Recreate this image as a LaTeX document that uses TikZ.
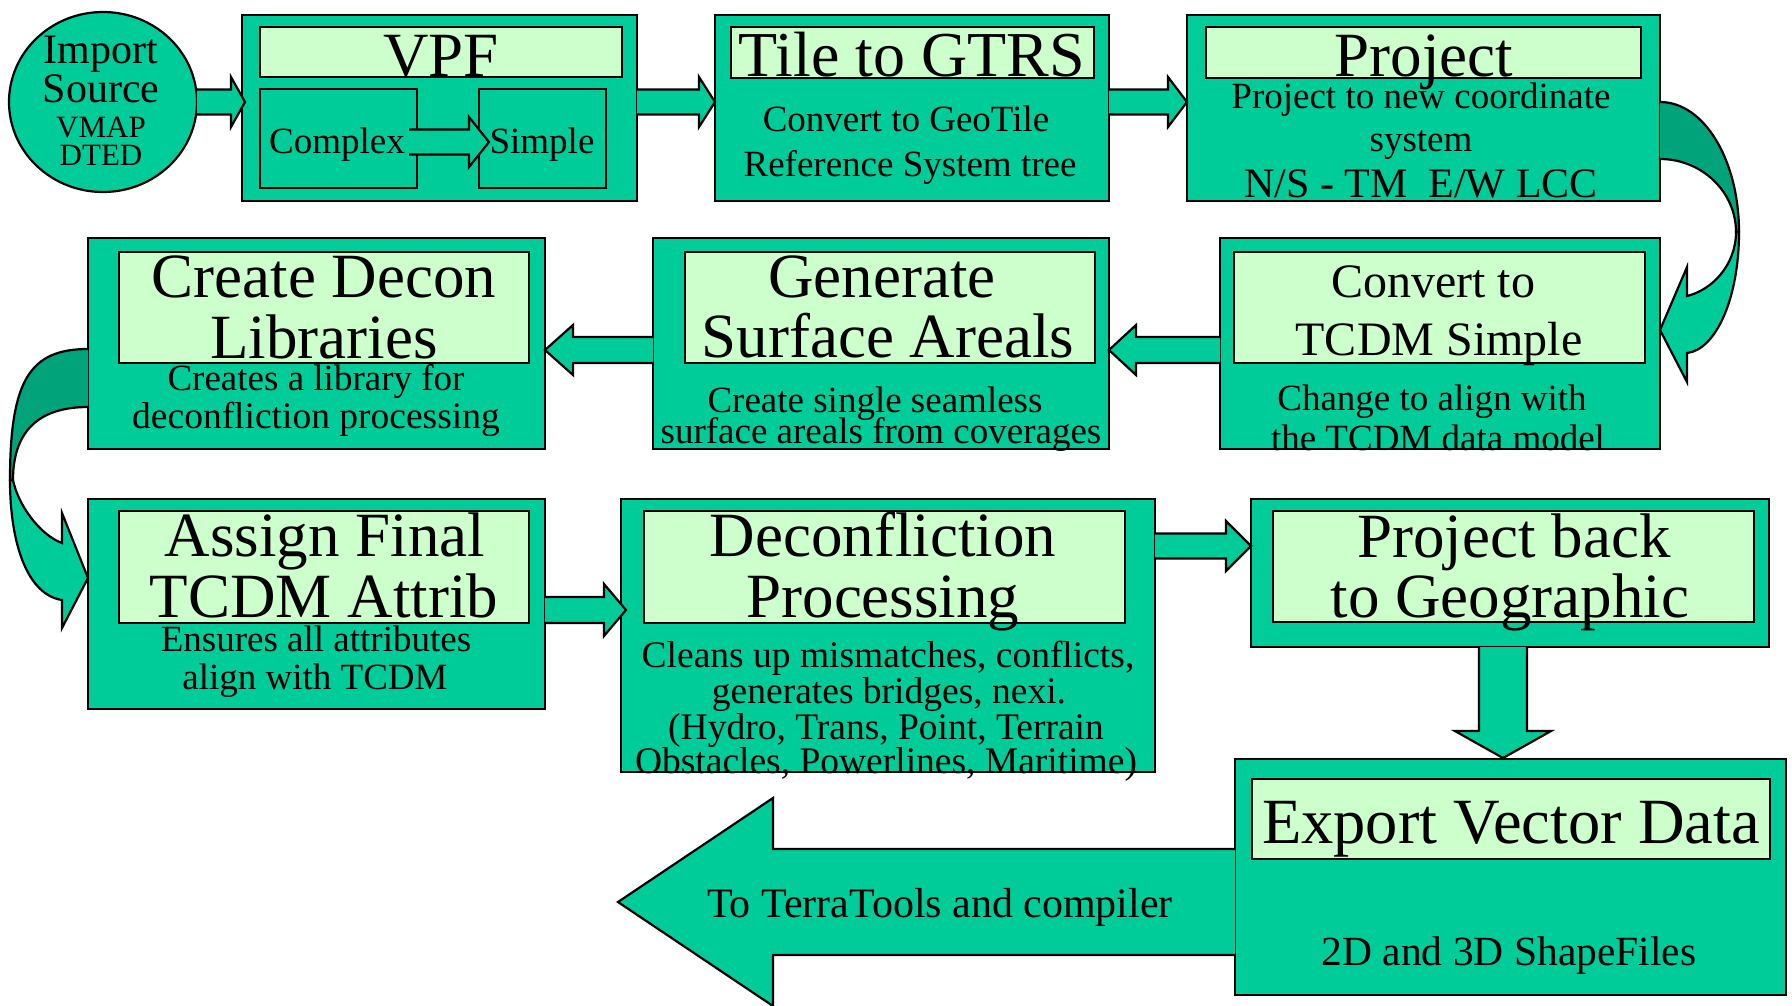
\documentclass[tikz,border=0pt]{standalone}
\usepackage{fontspec}
\setmainfont{Liberation Serif}
\usetikzlibrary{calc,shapes.geometric}

\definecolor{boxgreen}{HTML}{00CC99}
\definecolor{headgreen}{HTML}{CCFFCC}
\definecolor{foldgreen}{HTML}{00A37A}

\newcommand\fsz[1]{\fontsize{#1}{#1}\selectfont}

% rectangle node from its top-left to its bottom-right corner
\newcommand\rect[6]{\node[#1, minimum width={(#5-#3)*1pt}, minimum height={(#6-#4)*1pt}] (#2) at (#3,#4) {};}

% block arrows: tail, tip, shaft half width, head half width, head length
\newcommand\arrowR[5]{\filldraw[blk] ($#1+(0,-#3)$) -- ($#2+(-#5,-#3)$) -- ($#2+(-#5,-#4)$) -- #2 -- ($#2+(-#5,#4)$) -- ($#2+(-#5,#3)$) -- ($#1+(0,#3)$);}
\newcommand\arrowL[5]{\filldraw[blk] ($#1+(0,-#3)$) -- ($#2+(#5,-#3)$) -- ($#2+(#5,-#4)$) -- #2 -- ($#2+(#5,#4)$) -- ($#2+(#5,#3)$) -- ($#1+(0,#3)$);}
\newcommand\arrowD[5]{\filldraw[blk] ($#1+(-#3,0)$) -- ($#2+(-#3,-#5)$) -- ($#2+(-#4,-#5)$) -- #2 -- ($#2+(#4,-#5)$) -- ($#2+(#3,-#5)$) -- ($#1+(#3,0)$);}

\begin{document}
\begin{tikzpicture}[x=1pt,y=-1pt,
  panel/.style={draw=black, line width=2.2pt, fill=boxgreen, inner sep=0pt, outer sep=0pt, anchor=north west},
  title/.style={draw=black, line width=2.2pt, fill=headgreen, inner sep=0pt, outer sep=0pt, anchor=north west},
  blk/.style={draw=black, line width=2.2pt, fill=boxgreen, line join=miter},
  fold/.style={draw=black, line width=2.2pt, fill=foldgreen},
  lbl/.style={anchor=base, inner sep=0pt, outer sep=0pt, text=black},
  big/.style={lbl, font=\fsz{63}},
  small/.style={lbl, font=\fsz{37}},
]
\useasboundingbox (0,0) rectangle (1792,1005);

% ---------- panels ----------
\node[draw=black, line width=2.2pt, fill=boxgreen, ellipse, minimum width=188pt,
      minimum height=180pt, inner sep=0pt, outer sep=0pt] (imp) at (103,102) {};

\rect{panel}{vpf}{242}{15}{637}{201}
\rect{title}{vpfh}{260}{27}{622}{77}
\rect{panel}{cpx}{260}{89}{417}{188}
\rect{panel}{smp}{479}{89}{606}{188}

\rect{panel}{tile}{715}{15}{1109}{201}
\rect{title}{tileh}{731}{27}{1094}{78}

\rect{panel}{proj}{1187}{15}{1660}{201}
\rect{title}{projh}{1206}{27}{1641}{78}

\rect{panel}{lib}{88}{238}{545}{449}
\rect{title}{libh}{119}{252}{529}{363}

\rect{panel}{gen}{653}{238}{1109}{449}
\rect{title}{genh}{685}{252}{1095}{363}

\rect{panel}{conv}{1220}{238}{1660}{449}
\rect{title}{convh}{1234}{252}{1645}{363}

\rect{panel}{asg}{88}{499}{545}{709}
\rect{title}{asgh}{119}{511}{529}{623}

\rect{panel}{dcp}{621}{499}{1155}{772}
\rect{title}{dcph}{644}{511}{1125}{623}

\rect{panel}{pb}{1251}{499}{1769}{647}
\rect{title}{pbh}{1273}{511}{1754}{622}

\rect{panel}{exp}{1235}{759}{1786}{995}
\rect{title}{exph}{1252}{779}{1770}{859}

% ---------- straight block arrows ----------
\coordinate (tipvpf) at ($(vpf.west |- imp.east)+(3,0)$);
\arrowR{(imp.east)}{(tipvpf)}{12.5}{25}{14}
\arrowR{(vpf.east |- imp.east)}{(tile.west |- imp.east)}{12.5}{25}{16}
\arrowR{(tile.east |- imp.east)}{(proj.west |- imp.east)}{12.5}{25}{19}

\coordinate (tailcpx) at ($(cpx.east |- 0,142)+(-8,0)$);
\coordinate (tipsmp) at ($(smp.west |- 0,142)+(10,0)$);
\arrowR{(tailcpx)}{(tipsmp)}{12.5}{25}{20}

\arrowL{(gen.west |- 0,350)}{(lib.east |- 0,350)}{13}{25}{28}
\arrowL{(conv.west |- 0,350)}{(gen.east |- 0,350)}{13}{25}{27}

\coordinate (tipdcp) at ($(dcp.west |- 0,610)+(5,0)$);
\arrowR{(asg.east |- 0,610)}{(tipdcp)}{13}{26}{22}
\arrowR{(dcp.east |- 0,546)}{(pb.west |- 0,546)}{12.5}{25}{25}

\coordinate (tipexp) at ($(exp.north -| 1503,0)+(0,-1)$);
\arrowD{(pb.south -| 1503,0)}{(tipexp)}{24}{48}{27}

\coordinate (out) at (618,902);
\arrowL{(exp.west |- 0,902)}{(out)}{53}{104}{155}

% ---------- curved arrow: Project -> Convert ----------
\filldraw[fold] (proj.east |- 0,102) .. controls (1704,102) and (1739,160) .. (1739,232)
  -- (1736,232) .. controls (1736,192) and (1702,159) .. (proj.east |- 0,159);
\filldraw[blk] (1736,232) .. controls (1736,265) and (1712,290) .. (1687,296)
  -- (1687,267) -- (conv.east |- 0,330) -- (1687,382) -- (1687,353)
  .. controls (1715,350) and (1739,300) .. (1739,232) -- cycle;

% ---------- curved arrow: Create Decon -> Assign ----------
\filldraw[fold] (lib.west |- 0,349) .. controls (30,349) and (10,380) .. (10,480)
  -- (13,480) .. controls (13,435) and (35,407) .. (lib.west |- 0,407);
\filldraw[blk] (13,480) .. controls (18,505) and (40,535) .. (62,543)
  -- (62,513) -- (asg.west |- 0,578) -- (62,628) -- (62,600)
  .. controls (28,595) and (10,545) .. (10,480) -- cycle;

% ---------- texts ----------
\node[lbl, font=\fsz{42}] (imp1) at (101,63) {Import};
\node[lbl, font=\fsz{42}] (imp2) at (101,102) {Source};
\node[lbl, font=\fsz{31}] (imp3) at (101,137) {VMAP};
\node[lbl, font=\fsz{31}] (imp4) at (101,165) {DTED};

\node[big] (vpf1) at (441,76) {VPF};
\node[small] (cpx1) at (337,153) {Complex};
\node[small] (smp1) at (542,153) {Simple};

\node[big, font=\fsz{64}] (tile1) at (912,76) {Tile to GTRS};
\node[small] (tile2) at (906,131) {Convert to GeoTile};
\node[small] (tile3) at (910,176) {Reference System tree};

\node[big] (proj1) at (1424,76) {Project};
\node[lbl, font=\fsz{37}] (proj2) at (1421,108) {Project to new coordinate};
\node[lbl, font=\fsz{37}] (proj3) at (1421,151) {system};
\node[lbl, font=\fsz{42}] (proj4) at (1421,197) {N/S - TM~~E/W LCC};

\node[big] (lib1) at (324,297) {Create Decon};
\node[big] (lib2) at (324,358) {Libraries};
\node[small] (lib3) at (316,390) {Creates a library for};
\node[lbl, font=\fsz{37.5}] (lib4) at (316,428) {deconfliction processing};

\node[big] (gen1) at (882,297) {Generate};
\node[big] (gen2) at (888,357) {Surface Areals};
\node[lbl, font=\fsz{37}] (gen3) at (875,412) {Create single seamless};
\node[lbl, font=\fsz{37}] (gen4) at (881,443) {surface areals from coverages};

\node[lbl, font=\fsz{48}] (conv1) at (1433,297) {Convert to};
\node[lbl, font=\fsz{48}] (conv2) at (1439,355) {TCDM Simple};
\node[small] (conv3) at (1432,410) {Change to align with};
\node[small] (conv4) at (1438,450) {the TCDM data model};

\node[big] (asg1) at (325,556) {Assign Final};
\node[big] (asg2) at (324,617) {TCDM Attrib};
\node[lbl, font=\fsz{37}] (asg3) at (316,651) {Ensures all attributes};
\node[lbl, font=\fsz{37}] (asg4) at (315,689) {align with TCDM};

\node[big] (dcp1) at (883,556) {Deconfliction};
\node[big] (dcp2) at (883,617) {Processing};
\node[lbl, font=\fsz{37.5}] (dcp3) at (888,667) {Cleans up mismatches, conflicts,};
\node[lbl, font=\fsz{37.5}] (dcp4) at (889,703) {generates bridges, nexi.};
\node[lbl, font=\fsz{37.5}] (dcp5) at (886,739) {(Hydro, Trans, Point, Terrain};
\node[lbl, font=\fsz{37.5}] (dcp6) at (886,773) {Obstacles, Powerlines, Maritime)};

\node[big] (pb1) at (1514,557) {Project back};
\node[big] (pb2) at (1510,617) {to Geographic};

\node[big, font=\fsz{64.5}] (exp1) at (1511,843) {Export Vector Data};
\node[lbl, font=\fsz{41.5}] (exp2) at (1509,965) {2D and 3D ShapeFiles};

\node[lbl, font=\fsz{42}] (outtxt) at (940,917) {To TerraTools and compiler};
\end{tikzpicture}
\end{document}
